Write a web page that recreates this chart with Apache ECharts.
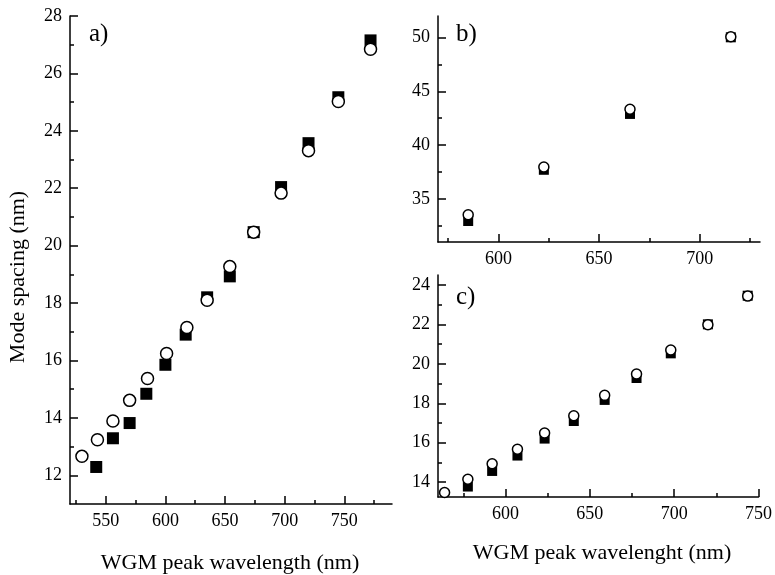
<!DOCTYPE html>
<html>
<head>
<meta charset="utf-8">
<script src="https://cdn.jsdelivr.net/npm/echarts@6/dist/echarts.min.js"></script>
<style>
  html, body { margin: 0; padding: 0; background: #fff; }
  #chart { width: 775px; height: 575px; }
</style>
</head>
<body>
<div id="chart"></div>
<script>
// panel a) - filled squares and open circles
const aSquareX = [542, 556, 570, 584, 600, 617, 635, 654, 674, 697, 720, 745, 772];
const aSquareY = [12.29, 13.29, 13.82, 14.84, 15.85, 16.9, 18.2, 18.93, 20.47, 22.04, 23.57, 25.17, 27.15];
const aCircleX = [530, 543, 556, 570, 585, 601, 618, 635, 654, 674, 697, 720, 745, 772];
const aCircleY = [12.66, 13.24, 13.89, 14.61, 15.37, 16.24, 17.15, 18.1, 19.27, 20.47, 21.83, 23.31, 25.02, 26.84];

// panel b)
const bX = [585, 622.6, 665.4, 715.5];
const bSquareY = [32.95, 37.71, 42.9, 50.02];
const bCircleY = [33.53, 37.96, 43.34, 50.07];

// panel c)
const cSquareX = [577.7, 592.1, 607.1, 623.2, 640.5, 658.8, 677.7, 698, 720, 743.6];
const cSquareY = [13.78, 14.57, 15.35, 16.21, 17.1, 18.17, 19.28, 20.53, 22.0, 23.45];
const cCircleX = [563.9, 577.7, 592.1, 607.1, 623.2, 640.5, 658.8, 677.7, 698, 720, 743.6];
const cCircleY = [13.48, 14.15, 14.93, 15.67, 16.49, 17.37, 18.40, 19.48, 20.70, 21.98, 23.43];

// tick values
const aXLabels = [550, 600, 650, 700, 750];
const aXMinor = [525, 575, 625, 675, 725, 775];
const aYLabels = [12, 14, 16, 18, 20, 22, 24, 26, 28];
const aYMinor = [13, 15, 17, 19, 21, 23, 25, 27];
const bXLabels = [600, 650, 700];
const bXMinor = [575, 625, 675, 725];
const bYLabels = [35, 40, 45, 50];
const bYMinor = [32.5, 37.5, 42.5, 47.5];
const cXLabels = [600, 650, 700, 750];
const cXMinor = [575, 625, 675, 725];
const cYLabels = [14, 16, 18, 20, 22, 24];
const cYMinor = [15, 17, 19, 21, 23];

const FONT = '"Liberation Serif", "Times New Roman", serif';

function zip(xs, ys) {
    return xs.map((x, i) => [x, ys[i]]);
}

function mainAxis(grid, pos, min, max, labels) {
    return {
        type: 'value', gridIndex: grid, position: pos, min: min, max: max,
        axisLine: { show: true, lineStyle: { color: '#000', width: 1.5 } },
        axisTick: { show: true, inside: true, length: 8, customValues: labels, lineStyle: { color: '#000', width: 1.5 } },
        axisLabel: { show: true, customValues: labels, color: '#000', fontFamily: FONT, fontSize: 18, margin: 8 },
        splitLine: { show: false }
    };
}

// second axis on the same side, only for the short ticks
function minorAxis(grid, pos, min, max, ticks) {
    return {
        type: 'value', gridIndex: grid, position: pos, offset: 0, min: min, max: max,
        axisLine: { show: false },
        axisTick: { show: true, inside: true, length: 4, customValues: ticks, lineStyle: { color: '#000', width: 1.5 } },
        axisLabel: { show: false },
        splitLine: { show: false }
    };
}

function squares(data, xi, yi, size) {
    return {
        type: 'scatter', xAxisIndex: xi, yAxisIndex: yi, data: data,
        symbol: 'rect', symbolSize: size,
        itemStyle: { color: '#000', opacity: 1 }
    };
}

function circles(data, xi, yi, size) {
    return {
        type: 'scatter', xAxisIndex: xi, yAxisIndex: yi, data: data,
        symbol: 'circle', symbolSize: size,
        itemStyle: { color: '#fff', borderColor: '#000', borderWidth: 1.5, opacity: 1 }
    };
}

const chart = echarts.init(document.getElementById('chart'));
chart.setOption({
    animation: false,
    backgroundColor: '#fff',
    grid: [
        { left: 70, top: 16, width: 322, height: 488 },
        { left: 438, top: 16, width: 322, height: 226 },
        { left: 438, top: 275, width: 322, height: 222 }
    ],
    xAxis: [
        mainAxis(0, 'bottom', 520, 790, aXLabels),
        mainAxis(1, 'bottom', 570, 730, bXLabels),
        mainAxis(2, 'bottom', 560, 750, cXLabels),
        minorAxis(0, 'bottom', 520, 790, aXMinor),
        minorAxis(1, 'bottom', 570, 730, bXMinor),
        minorAxis(2, 'bottom', 560, 750, cXMinor)
    ],
    yAxis: [
        mainAxis(0, 'left', 11, 28, aYLabels),
        mainAxis(1, 'left', 31, 52, bYLabels),
        mainAxis(2, 'left', 13.25, 24.5, cYLabels),
        minorAxis(0, 'left', 11, 28, aYMinor),
        minorAxis(1, 'left', 31, 52, bYMinor),
        minorAxis(2, 'left', 13.25, 24.5, cYMinor)
    ],
    series: [
        squares(zip(aSquareX, aSquareY), 0, 0, 12),
        circles(zip(aCircleX, aCircleY), 0, 0, 12),
        squares(zip(bX, bSquareY), 1, 1, 10),
        circles(zip(bX, bCircleY), 1, 1, 10),
        squares(zip(cSquareX, cSquareY), 2, 2, 10),
        circles(zip(cCircleX, cCircleY), 2, 2, 10)
    ],
    graphic: [
        { type: 'text', x: 18, y: 277, rotation: Math.PI / 2,
          style: { text: 'Mode spacing (nm)', fontFamily: FONT, fontSize: 22, fill: '#000', align: 'center', verticalAlign: 'middle' } },
        { type: 'text', x: 230, y: 563,
          style: { text: 'WGM peak wavelength (nm)', fontFamily: FONT, fontSize: 22, fill: '#000', align: 'center', verticalAlign: 'middle' } },
        { type: 'text', x: 602, y: 553,
          style: { text: 'WGM peak wavelenght (nm)', fontFamily: FONT, fontSize: 22, fill: '#000', align: 'center', verticalAlign: 'middle' } },
        { type: 'text', x: 89, y: 34,
          style: { text: 'a)', fontFamily: FONT, fontSize: 25, fill: '#000', align: 'left', verticalAlign: 'middle' } },
        { type: 'text', x: 456, y: 34,
          style: { text: 'b)', fontFamily: FONT, fontSize: 25, fill: '#000', align: 'left', verticalAlign: 'middle' } },
        { type: 'text', x: 456, y: 297,
          style: { text: 'c)', fontFamily: FONT, fontSize: 25, fill: '#000', align: 'left', verticalAlign: 'middle' } }
    ]
});
</script>
</body>
</html>
